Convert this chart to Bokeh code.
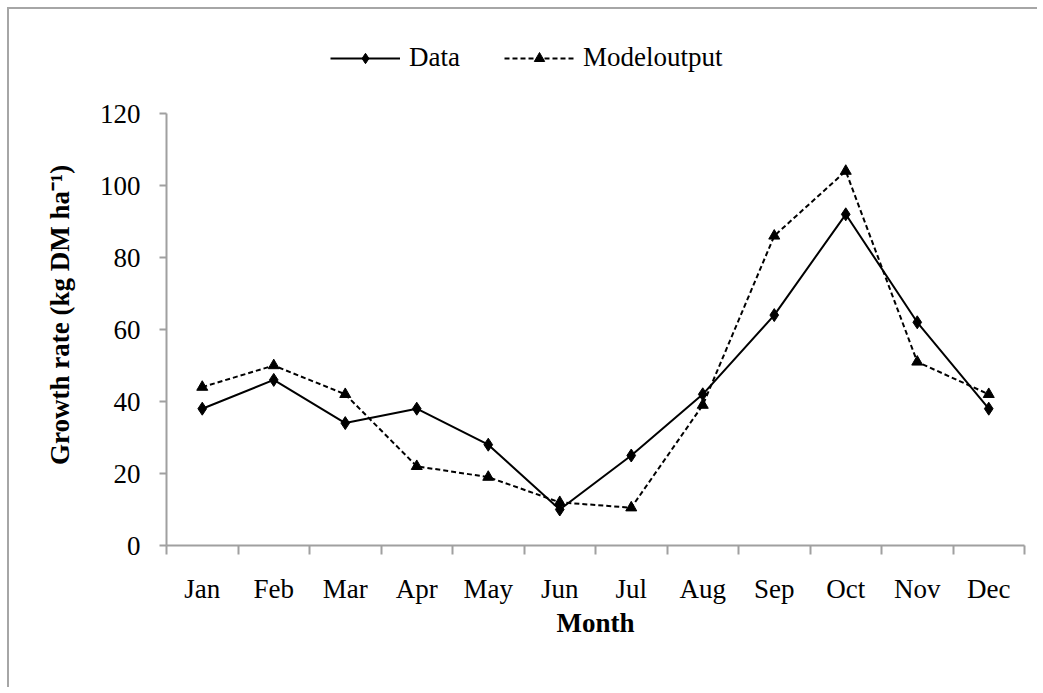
from bokeh.plotting import figure
from bokeh.models import FixedTicker, Legend, LegendItem
from bokeh.embed import file_html
from bokeh.resources import INLINE

months = ["Jan", "Feb", "Mar", "Apr", "May", "Jun", "Jul", "Aug", "Sep", "Oct", "Nov", "Dec"]
data_vals = [38, 46, 34, 38, 28, 10, 25, 42, 64, 92, 62, 38]
model_vals = [44, 50, 42, 22, 19, 12, 10.5, 39, 86, 104, 51, 42]
y_ticks = [0, 20, 40, 60, 80, 100, 120]

xs = list(range(1, len(months) + 1))
FONT = "Liberation Serif"
GREY = "#a0a0a0"

# frame extends above 120 to leave room for the legend; the y axis stops at 120
p = figure(width=1030, height=680, output_backend="svg", toolbar_location=None,
           x_range=(0.5, 12.5), y_range=(0, 145),
           min_border_left=157, min_border_right=15, min_border_top=14, min_border_bottom=144)
p.styles = {"margin-left": "7px", "margin-top": "7px",
            "border-top": "2px solid #a6a6a6", "border-left": "2px solid #a6a6a6"}
p.outline_line_color = None
p.grid.grid_line_color = None

# x axis: labels at month centres, ticks at month boundaries
p.xaxis.ticker = FixedTicker(ticks=xs, minor_ticks=[i + 0.5 for i in range(0, 13)])
p.xaxis.major_label_overrides = {i: m for i, m in zip(xs, months)}
p.xaxis.major_tick_line_color = None
p.xaxis.major_tick_out = 9
p.xaxis.major_tick_in = 0
p.xaxis.minor_tick_line_color = GREY
p.xaxis.minor_tick_line_width = 2
p.xaxis.minor_tick_out = 9
p.xaxis.minor_tick_in = 0
p.xaxis.major_label_standoff = 19
p.xaxis.axis_label = "Month"
p.xaxis.axis_label_standoff = 1

p.yaxis.ticker = FixedTicker(ticks=y_ticks, minor_ticks=[])
p.yaxis.bounds = (0, 120)
p.yaxis.major_tick_out = 7
p.yaxis.major_tick_in = 0
p.yaxis.major_tick_line_color = GREY
p.yaxis.major_tick_line_width = 2
p.yaxis.major_label_standoff = 19
p.yaxis.axis_label = "Growth rate (kg DM ha\u207b\u00b9)" + "\u00a0" * 9
p.yaxis.axis_label_standoff = 22

for ax in (p.xaxis, p.yaxis):
    ax.axis_line_color = GREY
    ax.axis_line_width = 2
    ax.major_label_text_font = FONT
    ax.major_label_text_font_size = "27px"
    ax.major_label_text_color = "black"
    ax.axis_label_text_font = FONT
    ax.axis_label_text_font_size = "27px"
    ax.axis_label_text_font_style = "bold"
    ax.axis_label_text_color = "black"

l1 = p.line(xs, data_vals, line_color="black", line_width=2)
m1 = p.scatter(xs, data_vals, marker="diamond", size=13, color="black")
l2 = p.line(xs, model_vals, line_color="black", line_width=2, line_dash="5 3")
m2 = p.scatter(xs, model_vals, marker="triangle", size=11, color="black")

legend = Legend(items=[LegendItem(label="Data", renderers=[l1, m1]),
                       LegendItem(label="Modeloutput", renderers=[l2, m2])],
                location=(164, 472), orientation="horizontal",
                glyph_width=70, glyph_height=26, label_text_font=FONT,
                label_text_font_size="27px", label_text_color="black",
                spacing=44, padding=0, margin=0,
                border_line_color=None, background_fill_alpha=0, label_standoff=9)
p.add_layout(legend, "center")

open("out.html", "w").write(file_html(p, INLINE))
